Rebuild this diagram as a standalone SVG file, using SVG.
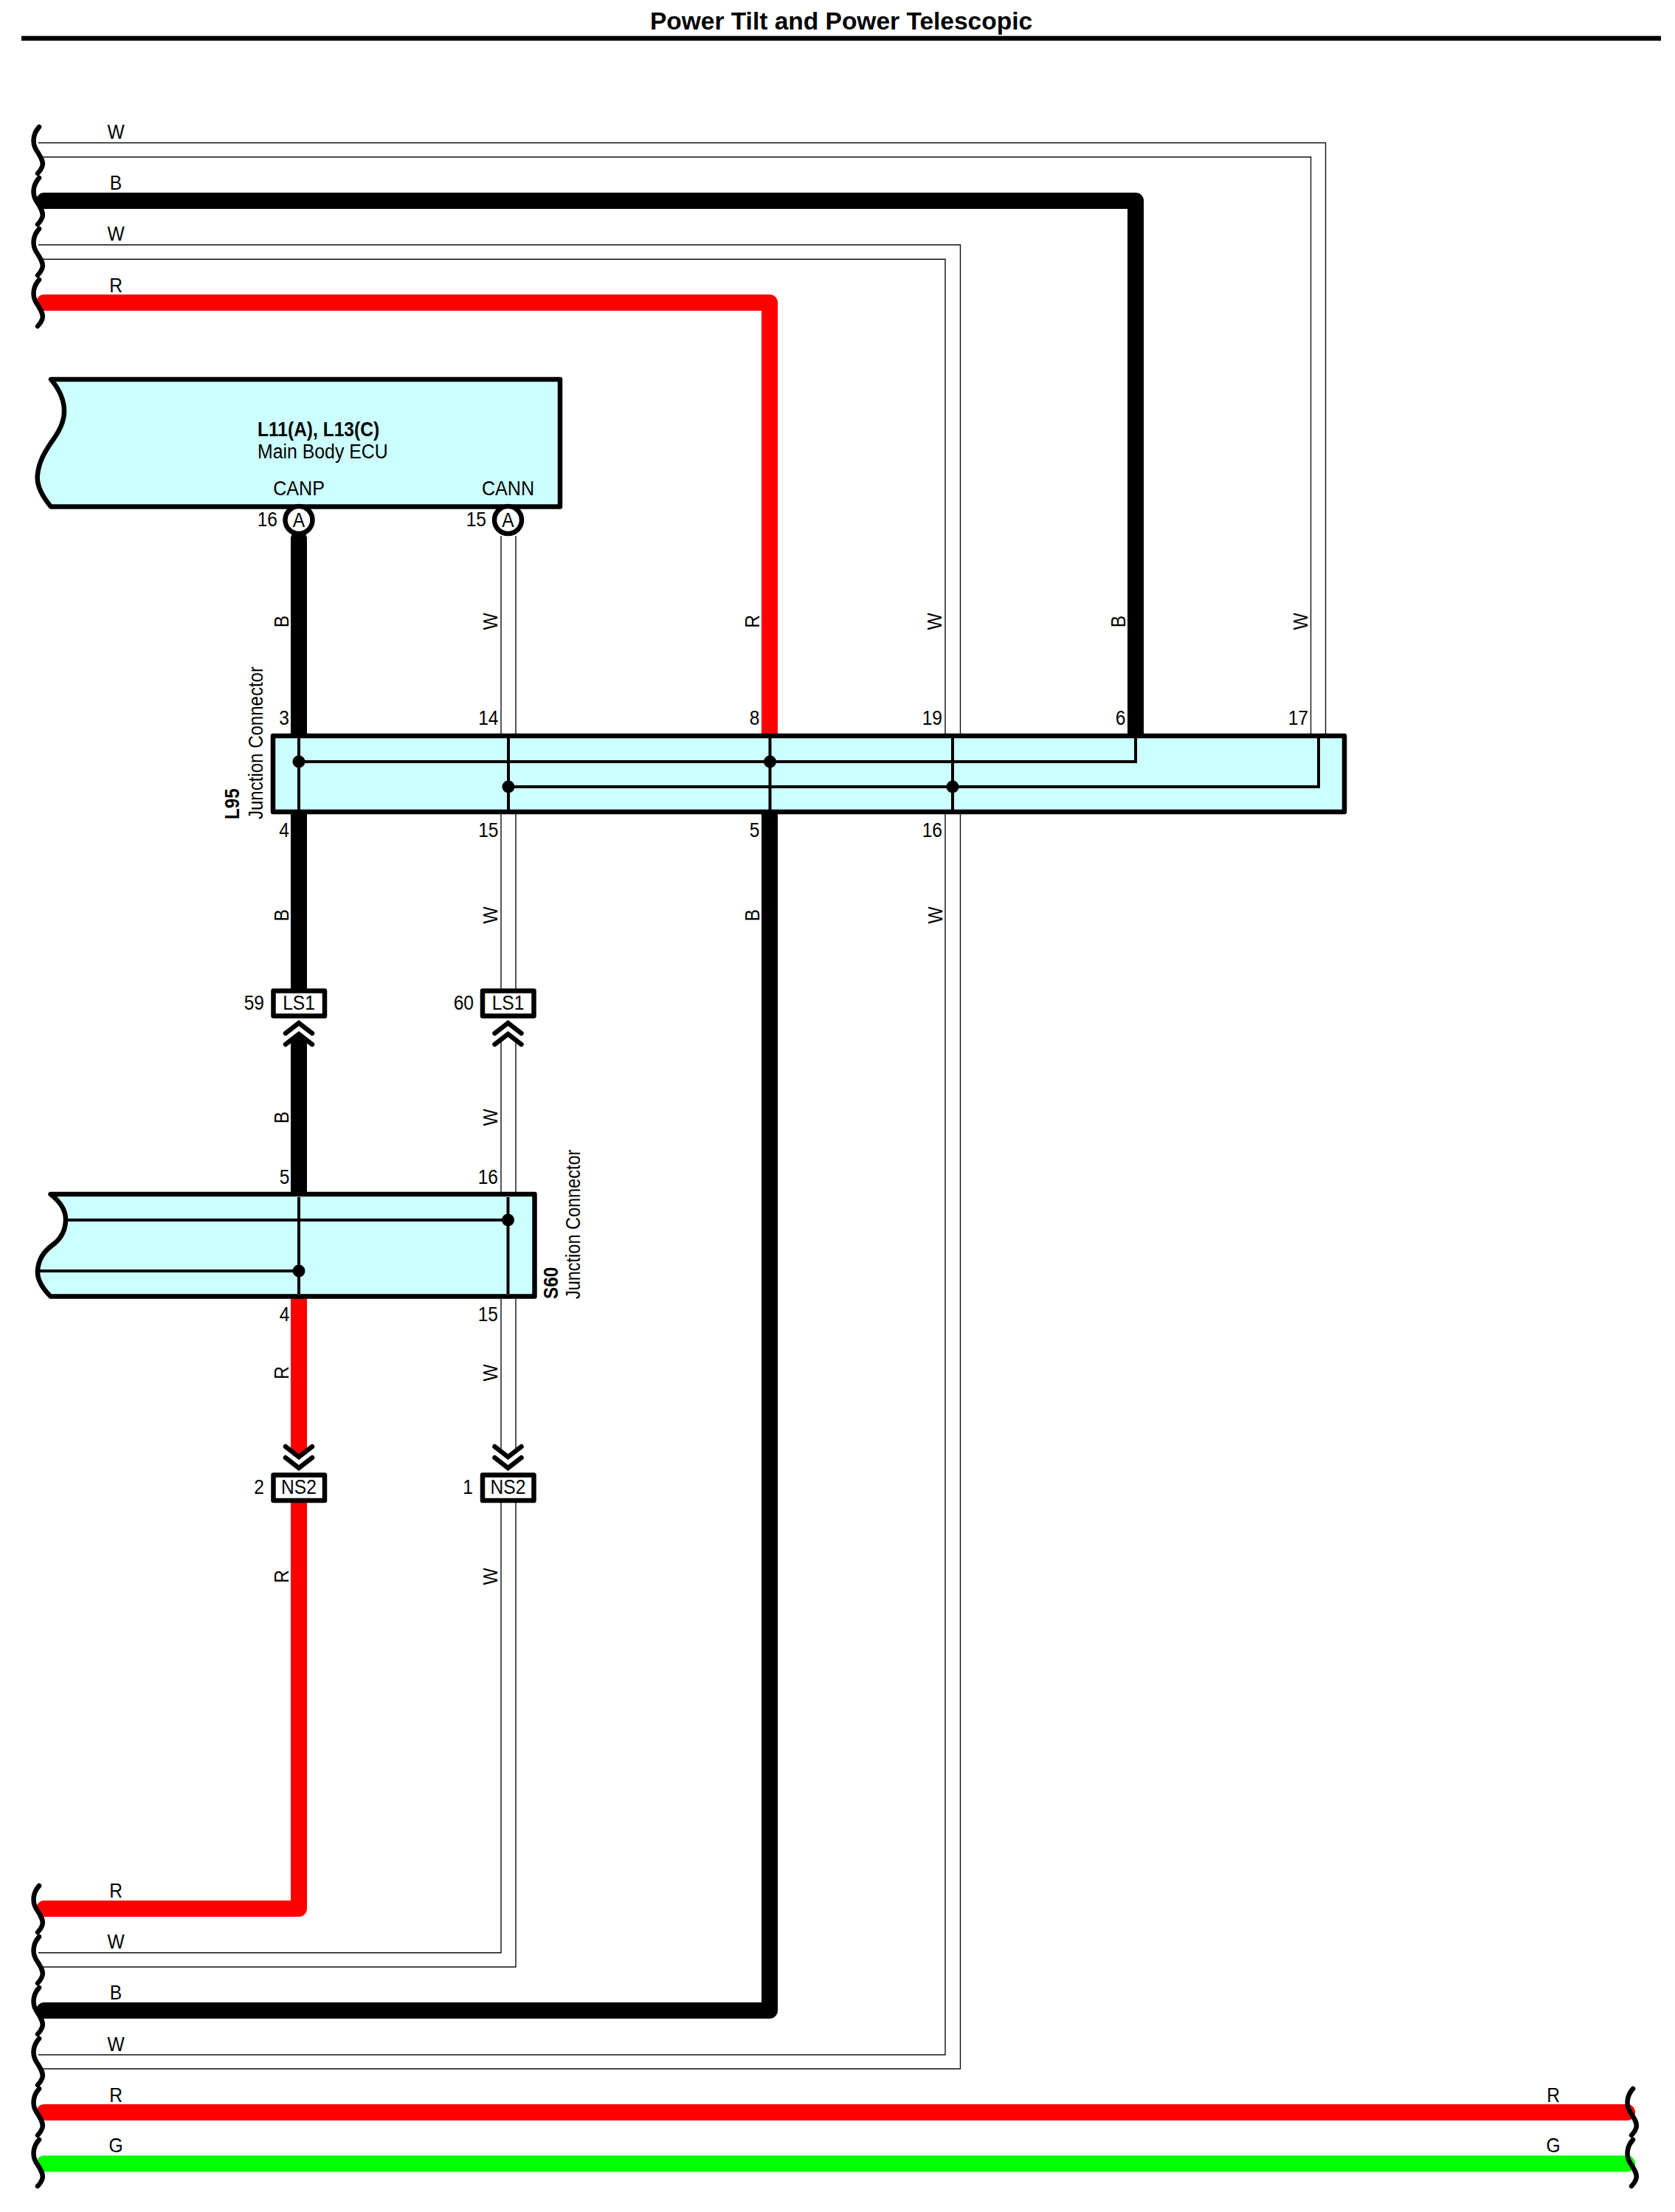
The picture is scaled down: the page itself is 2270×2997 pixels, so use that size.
<svg xmlns="http://www.w3.org/2000/svg" xmlns:xlink="http://www.w3.org/1999/xlink" width="2270" height="2997" viewBox="0 0 2270 2997">
<style>
text{font-family:"Liberation Sans",Arial,sans-serif;font-size:27px;fill:#000}
.b{font-weight:bold}
.m{text-anchor:middle}
.e{text-anchor:end}
.t{font-size:33.5px;font-weight:bold;text-anchor:middle}
.thin{fill:none;stroke:#111;stroke-width:1.4}
.thick{fill:none;stroke-width:22;stroke-linecap:round;stroke-linejoin:round}
.k{stroke:#000}.r{stroke:#f00}.g{stroke:#0f0}
.box{fill:#ccffff;stroke:#000;stroke-width:6.5;stroke-linejoin:round}
.in{fill:none;stroke:#000;stroke-width:4}
.conn{fill:#fff;stroke:#000;stroke-width:6.5;stroke-linejoin:round}
.sq{fill:none;stroke:#000;stroke-width:6.5;stroke-linecap:round}
</style>
<defs>
<path id="sq" class="sq" d="M53 0C45 9 43 21 49 31C55 40 60 48 57 54C56 57 54 60 51 63"/>
<path id="chev" class="sq" d="M-18 14L0 0L18 14"/>
</defs>
<g id="title">
<text class="t" x="1140" y="40">Power Tilt and Power Telescopic</text>
<rect x="29" y="48.7" width="2222" height="6.5" fill="#000"/>
</g>
<g id="connectors">
<path class="thin" d="M52 193.5H1796.5V994"/>
<path class="thin" d="M52 212.7H1776.5V994"/>
<path class="thin" d="M52 331.7H1301.5V2803H58"/>
<path class="thin" d="M52 351.2H1281V2784H52"/>
<path class="thick k" d="M60 272H1539V1000"/>
<path class="thick r" d="M60 410H1043V1000"/>
<path class="thick k" d="M405 730V1000"/>
<path class="thin" d="M679 726V994M699 726V994"/>
<path class="thick k" d="M405 1095V1350"/>
<path class="thin" d="M679 1103V1340M699 1103V1340"/>
<path class="thick k" d="M405 1413V1625"/>
<path class="thin" d="M679 1409V1616M699 1409V1616"/>
<path class="thick r" d="M405 1750V1963"/>
<path class="thin" d="M679 1760V1966M699 1760V1966"/>
<path class="thick r" d="M405 2025V2586H60"/>
<path class="thin" d="M679 2036V2645.7H52"/>
<path class="thin" d="M699 2036V2665H58"/>
<path class="thick k" d="M1043 1095V2724H60"/>
<path class="thick r" d="M60 2862H2205"/>
<path class="thick g" d="M60 2931.5H2205"/>
</g>
<g id="breaks">
<use xlink:href="#sq" href="#sq" y="172"/>
<use xlink:href="#sq" href="#sq" y="241"/>
<use xlink:href="#sq" href="#sq" y="310"/>
<use xlink:href="#sq" href="#sq" y="379"/>
<use xlink:href="#sq" href="#sq" y="2555"/>
<use xlink:href="#sq" href="#sq" y="2624"/>
<use xlink:href="#sq" href="#sq" y="2693"/>
<use xlink:href="#sq" href="#sq" y="2762"/>
<use xlink:href="#sq" href="#sq" y="2830"/>
<use xlink:href="#sq" href="#sq" y="2899"/>
<use xlink:href="#sq" href="#sq" x="2160" y="2830"/>
<use xlink:href="#sq" href="#sq" x="2160" y="2899"/>
</g>
<g id="wire-labels">
<text class="m" transform="translate(157 188) scale(.91 1)">W</text>
<text class="m" transform="translate(157 257) scale(.91 1)">B</text>
<text class="m" transform="translate(157 326) scale(.91 1)">W</text>
<text class="m" transform="translate(157 395.5) scale(.91 1)">R</text>
<text class="m" transform="translate(157 2571) scale(.91 1)">R</text>
<text class="m" transform="translate(157 2640) scale(.91 1)">W</text>
<text class="m" transform="translate(157 2709) scale(.91 1)">B</text>
<text class="m" transform="translate(157 2778.5) scale(.91 1)">W</text>
<text class="m" transform="translate(157 2848) scale(.91 1)">R</text>
<text class="m" transform="translate(157 2915.5) scale(.91 1)">G</text>
<text class="m" transform="translate(2105 2848) scale(.91 1)">R</text>
<text class="m" transform="translate(2105 2915.5) scale(.91 1)">G</text>
<text class="m" transform="translate(391 842) rotate(-90) scale(.91 1)">B</text>
<text class="m" transform="translate(674 842) rotate(-90) scale(.91 1)">W</text>
<text class="m" transform="translate(1029 842) rotate(-90) scale(.91 1)">R</text>
<text class="m" transform="translate(1276 842) rotate(-90) scale(.91 1)">W</text>
<text class="m" transform="translate(1524.5 842) rotate(-90) scale(.91 1)">B</text>
<text class="m" transform="translate(1772 842) rotate(-90) scale(.91 1)">W</text>
<text class="m" transform="translate(391 1240) rotate(-90) scale(.91 1)">B</text>
<text class="m" transform="translate(674 1240) rotate(-90) scale(.91 1)">W</text>
<text class="m" transform="translate(1029 1240) rotate(-90) scale(.91 1)">B</text>
<text class="m" transform="translate(1277 1240) rotate(-90) scale(.91 1)">W</text>
<text class="m" transform="translate(391 1514) rotate(-90) scale(.91 1)">B</text>
<text class="m" transform="translate(674 1514) rotate(-90) scale(.91 1)">W</text>
<text class="m" transform="translate(391 1860) rotate(-90) scale(.91 1)">R</text>
<text class="m" transform="translate(674 1860) rotate(-90) scale(.91 1)">W</text>
<text class="m" transform="translate(391 2136) rotate(-90) scale(.91 1)">R</text>
<text class="m" transform="translate(674 2136) rotate(-90) scale(.91 1)">W</text>
</g>
<g id="main-body-ecu">
<path class="box" d="M69 514H759V686.5H69C55 670 49 656 51 642C53 625 61 612 69 600C80 585 87 572 87 557C87 541 80 527 69 514Z"/>
<text class="b" transform="translate(349 591) scale(.91 1)">L11(A), L13(C)</text>
<text transform="translate(349 620.5) scale(.92 1)">Main Body ECU</text>
<text class="m" transform="translate(405 671) scale(.93 1)">CANP</text>
<text class="m" transform="translate(688.5 671) scale(.93 1)">CANN</text>
</g>
<g id="pin-a-16">
<circle class="conn" cx="405" cy="704.5" r="18.5"/>
<text class="m" transform="translate(405 713.5) scale(.91 1)">A</text>
<text class="e" transform="translate(376 713) scale(.91 1)">16</text>
</g>
<g id="pin-a-15">
<circle class="conn" cx="688.5" cy="704.5" r="18.5"/>
<text class="m" transform="translate(688.5 713.5) scale(.91 1)">A</text>
<text class="e" transform="translate(659 713) scale(.91 1)">15</text>
</g>
<g id="l95">
<rect class="box" x="370" y="997" width="1452" height="103"/>
<path class="in" d="M405 1000V1097M689 1000V1097M1043.5 1000V1097M1291 1000V1097M1539 1000V1032H405M1787 1000V1066H689"/>
<circle cx="405" cy="1032" r="8.5"/>
<circle cx="1043.5" cy="1032" r="8.5"/>
<circle cx="689" cy="1066" r="8.5"/>
<circle cx="1291" cy="1066" r="8.5"/>
<text class="b" transform="translate(323.5 1110) rotate(-90) scale(.9 1)">L95</text>
<text transform="translate(355.5 1110) rotate(-90) scale(.89 1)">Junction Connector</text>
<text class="e" transform="translate(392 982) scale(.91 1)">3</text>
<text class="e" transform="translate(675.5 982) scale(.91 1)">14</text>
<text class="e" transform="translate(1029.5 982) scale(.91 1)">8</text>
<text class="e" transform="translate(1277 982) scale(.91 1)">19</text>
<text class="e" transform="translate(1525.5 982) scale(.91 1)">6</text>
<text class="e" transform="translate(1773 982) scale(.91 1)">17</text>
<text class="e" transform="translate(392 1134) scale(.91 1)">4</text>
<text class="e" transform="translate(675.5 1134) scale(.91 1)">15</text>
<text class="e" transform="translate(1029.5 1134) scale(.91 1)">5</text>
<text class="e" transform="translate(1277 1134) scale(.91 1)">16</text>
</g>
<g id="ls1-59">
<rect class="conn" x="370.5" y="1342.5" width="69.5" height="34"/>
<text class="m" transform="translate(405 1368) scale(.91 1)">LS1</text>
<text class="e" transform="translate(358 1368) scale(.91 1)">59</text>
<use xlink:href="#chev" href="#chev" transform="translate(405 1386)"/>
<use xlink:href="#chev" href="#chev" transform="translate(405 1401)"/>
</g>
<g id="ls1-60">
<rect class="conn" x="654" y="1342.5" width="69.5" height="34"/>
<text class="m" transform="translate(688.5 1368) scale(.91 1)">LS1</text>
<text class="e" transform="translate(642 1368) scale(.91 1)">60</text>
<use xlink:href="#chev" href="#chev" transform="translate(688.5 1386)"/>
<use xlink:href="#chev" href="#chev" transform="translate(688.5 1401)"/>
</g>
<g id="s60">
<path class="box" d="M68.5 1618H724.5V1756.5H68.5C57 1745 50 1733 51 1721C52 1707 60 1695 71 1687C82 1679 89 1667 89 1652C89 1638 80 1627 68.5 1618Z"/>
<path class="in" d="M405 1622V1753M688.5 1622V1753M88 1653H688.5M53 1722H405"/>
<circle cx="688.5" cy="1653" r="8.5"/>
<circle cx="405" cy="1722" r="8.5"/>
<text class="b" transform="translate(756 1760) rotate(-90) scale(.9 1)">S60</text>
<text transform="translate(786 1760) rotate(-90) scale(.87 1)">Junction Connector</text>
<text class="e" transform="translate(392.5 1604) scale(.91 1)">5</text>
<text class="e" transform="translate(675 1604) scale(.91 1)">16</text>
<text class="e" transform="translate(392.5 1790) scale(.91 1)">4</text>
<text class="e" transform="translate(675 1790) scale(.91 1)">15</text>
</g>
<g id="ns2-2">
<use xlink:href="#chev" href="#chev" transform="translate(405 1974) scale(1 -1)"/>
<use xlink:href="#chev" href="#chev" transform="translate(405 1989) scale(1 -1)"/>
<rect class="conn" x="370.5" y="1998.5" width="69.5" height="34.5"/>
<text class="m" transform="translate(405 2023.5) scale(.91 1)">NS2</text>
<text class="e" transform="translate(358 2023.5) scale(.91 1)">2</text>
</g>
<g id="ns2-1">
<use xlink:href="#chev" href="#chev" transform="translate(688.5 1974) scale(1 -1)"/>
<use xlink:href="#chev" href="#chev" transform="translate(688.5 1989) scale(1 -1)"/>
<rect class="conn" x="654" y="1998.5" width="69.5" height="34.5"/>
<text class="m" transform="translate(688.5 2023.5) scale(.91 1)">NS2</text>
<text class="e" transform="translate(641 2023.5) scale(.91 1)">1</text>
</g>
</svg>
